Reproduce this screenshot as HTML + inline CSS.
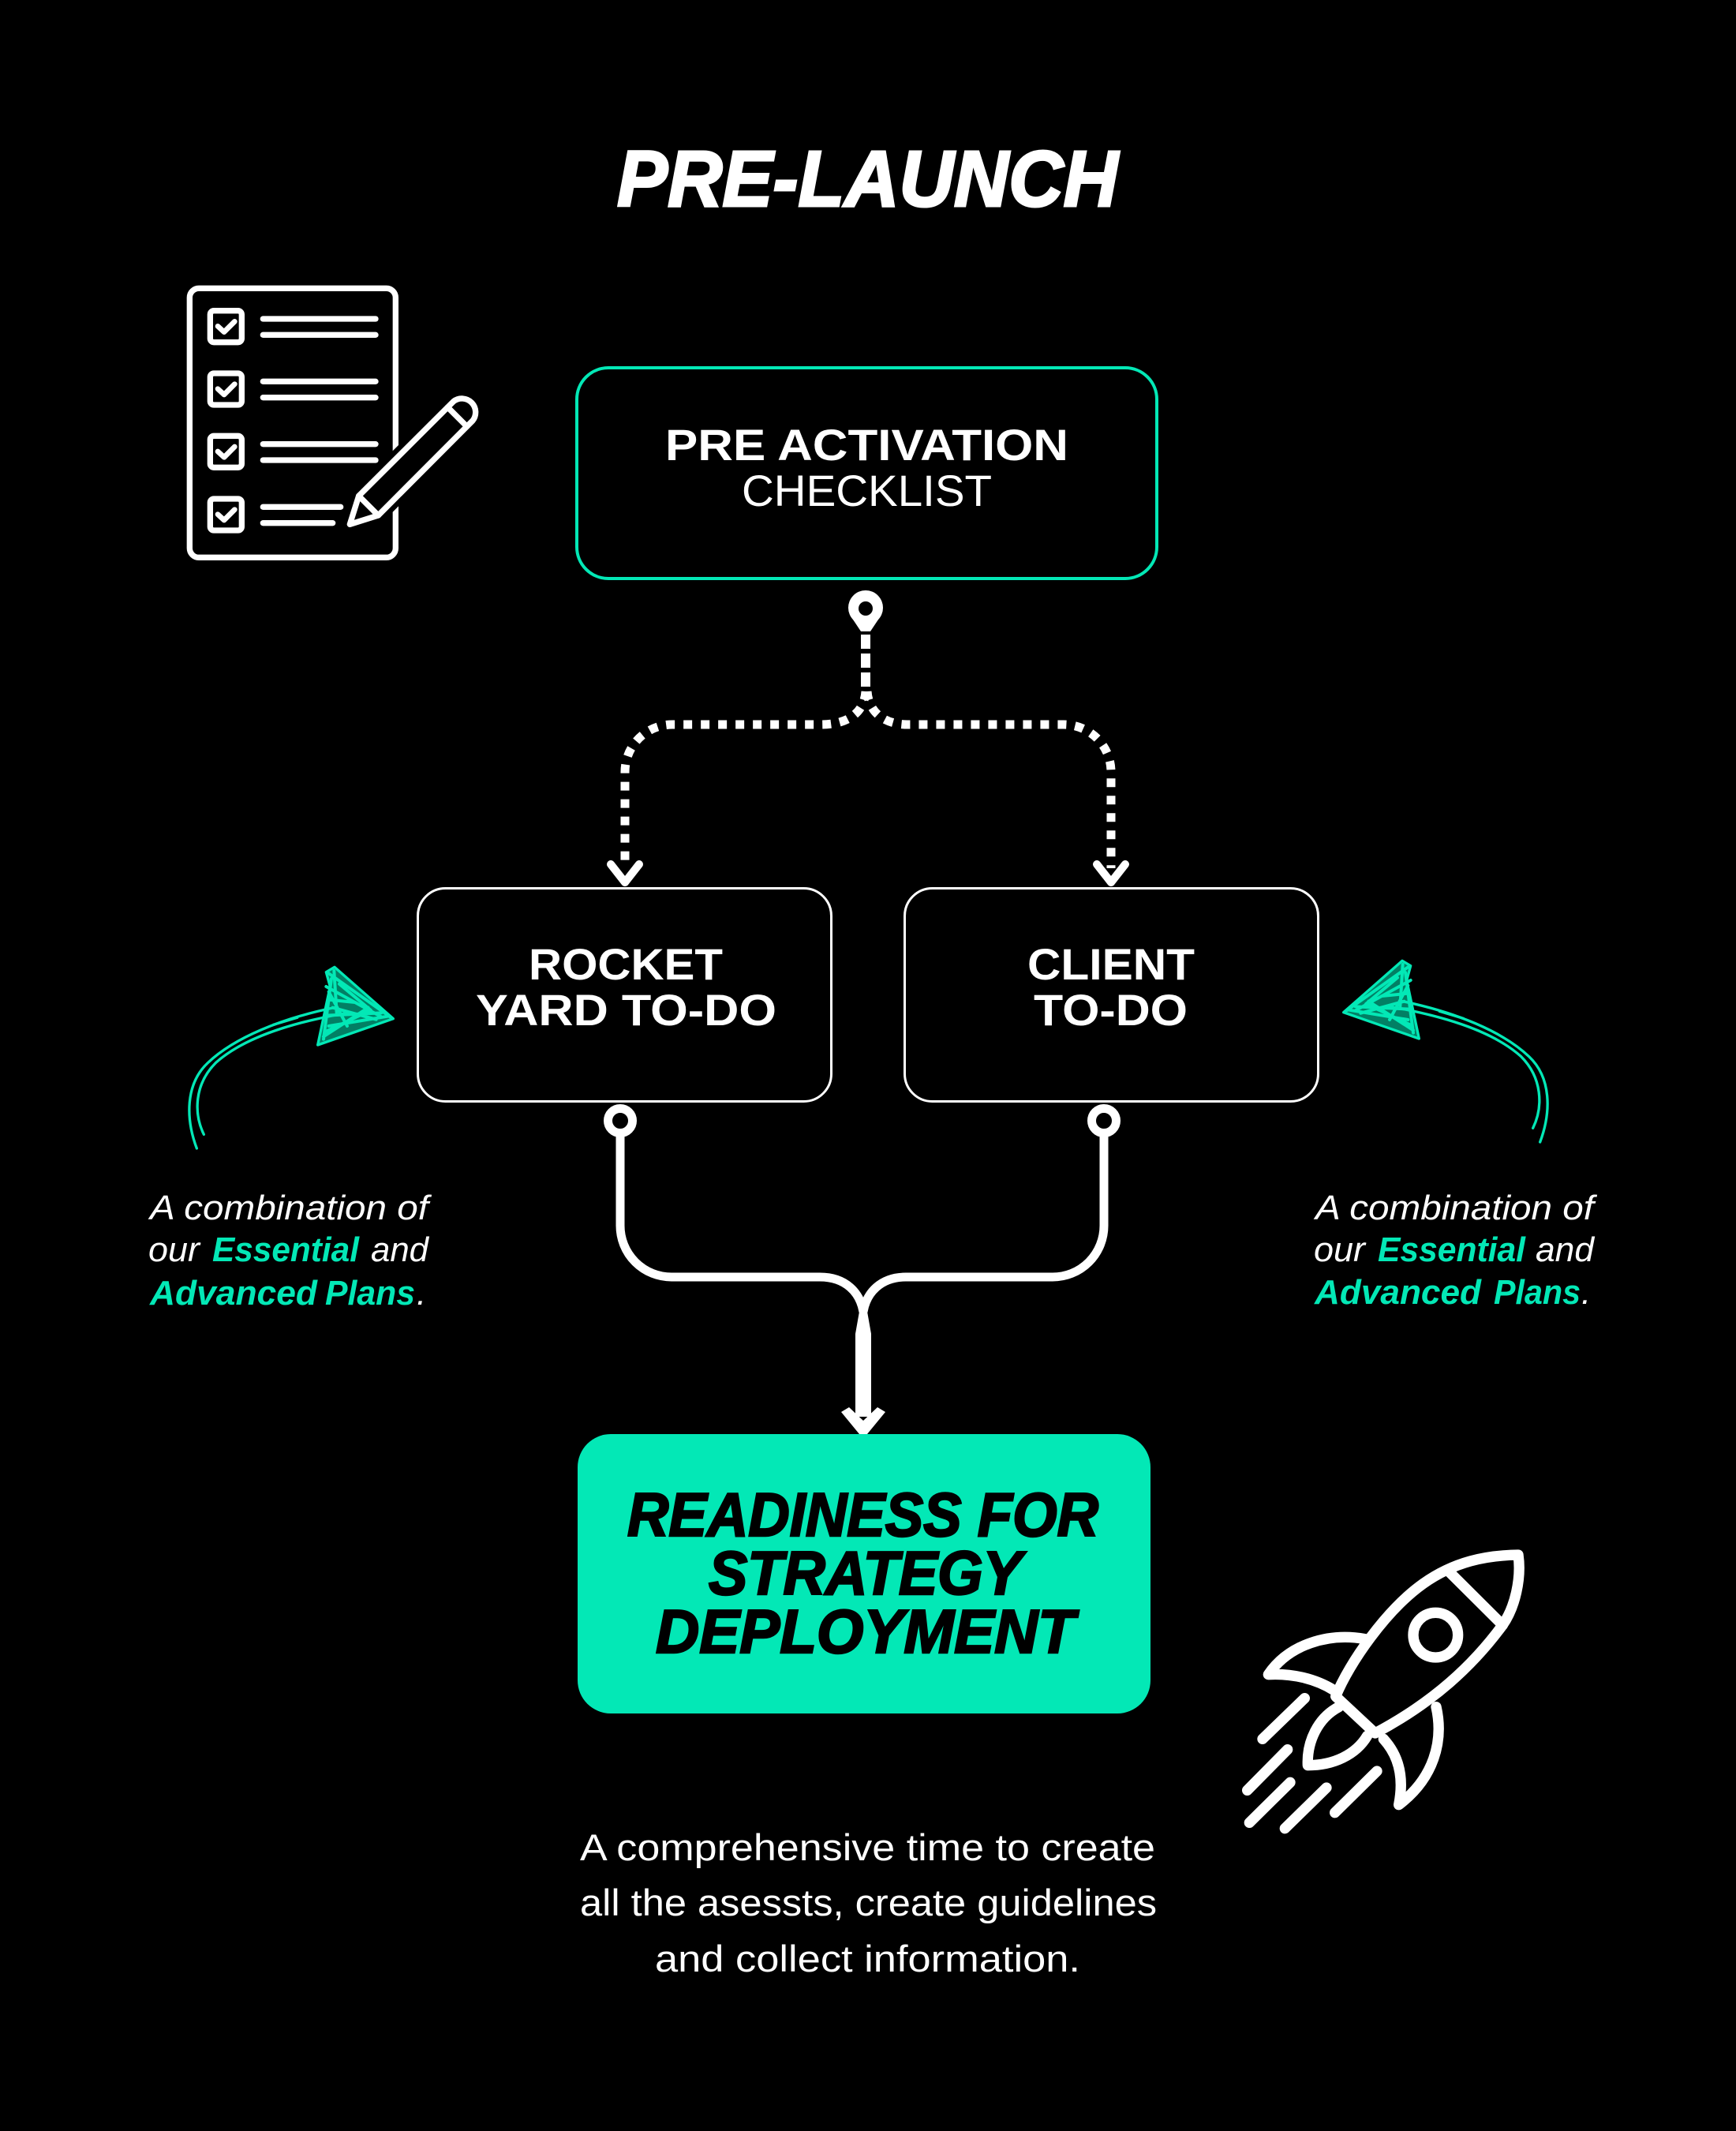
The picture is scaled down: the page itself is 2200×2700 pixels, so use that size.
<!DOCTYPE html>
<html>
<head>
<meta charset="utf-8">
<style>
  html, body { margin: 0; padding: 0; background: #000; }
  body { width: 2200px; height: 2700px; overflow: hidden; }
  svg { display: block; }
  text { font-family: "Liberation Sans", sans-serif; }
</style>
</head>
<body>
<svg width="2200" height="2700" viewBox="0 0 2200 2700" xmlns="http://www.w3.org/2000/svg">
  <rect width="2200" height="2700" fill="#000"/>

  <!-- Title -->
  <text x="782" y="261" font-size="100" font-weight="bold" font-style="italic" fill="#fff" stroke="#fff" stroke-width="3" textLength="635" lengthAdjust="spacingAndGlyphs">PRE-LAUNCH</text>

  <!-- Checklist icon -->
  <g transform="translate(200,330) scale(0.33333)" fill="none" stroke="#fff" stroke-width="22" stroke-linecap="round" stroke-linejoin="round">
    <rect x="121" y="106" width="783" height="1023" rx="35"/>
    <rect x="199" y="191" width="120" height="120" rx="14"/>
    <rect x="199" y="429" width="120" height="120" rx="14"/>
    <rect x="199" y="667" width="120" height="120" rx="14"/>
    <rect x="199" y="906" width="120" height="120" rx="14"/>
    <polyline points="228,250 252,272 292,232" stroke-width="20"/>
    <polyline points="228,488 252,510 292,470" stroke-width="20"/>
    <polyline points="228,726 252,748 292,708" stroke-width="20"/>
    <polyline points="228,965 252,987 292,947" stroke-width="20"/>
    <line x1="400" y1="222" x2="828" y2="222"/>
    <line x1="400" y1="283" x2="828" y2="283"/>
    <line x1="400" y1="460" x2="828" y2="460"/>
    <line x1="400" y1="521" x2="828" y2="521"/>
    <line x1="400" y1="698" x2="828" y2="698"/>
    <line x1="400" y1="759" x2="828" y2="759"/>
    <line x1="400" y1="937" x2="695" y2="937"/>
    <line x1="400" y1="998" x2="665" y2="998"/>
    <path d="M730,1003 L764,895 L1124,536 A52,52 0 0 1 1197,609 L838,969 Z" fill="#000" stroke="#000" stroke-width="60"/>
    <path d="M730,1003 L764,895 L1124,536 A52,52 0 0 1 1197,609 L838,969 Z" fill="#000"/>
    <line x1="764" y1="895" x2="838" y2="969"/>
    <line x1="1102" y1="558" x2="1175" y2="631"/>
  </g>

  <!-- Top box -->
  <rect x="731" y="466" width="735" height="267" rx="40" fill="none" stroke="#03e8b6" stroke-width="4"/>
  <text x="843" y="583" font-size="56" font-weight="bold" fill="#fff" textLength="511" lengthAdjust="spacingAndGlyphs">PRE ACTIVATION</text>
  <text x="940" y="641" font-size="56" fill="#fff" textLength="317" lengthAdjust="spacingAndGlyphs">CHECKLIST</text>

  <!-- Top node -->
  <circle cx="1097" cy="770" r="22" fill="#fff"/>
  <path d="M1081,785 L1113,785 L1103,800 L1091,800 Z" fill="#fff"/>
  <circle cx="1097" cy="771" r="9" fill="#000"/>
  <line x1="1097" y1="804" x2="1097" y2="872" stroke="#fff" stroke-width="12" stroke-dasharray="18 6"/>

  <!-- Dashed branches -->
  <path d="M1097,876 C1095,905 1072,918 1040,918 L852,918 A60,60 0 0 0 792,978 L792,1100" fill="none" stroke="#fff" stroke-width="11" stroke-dasharray="11 11"/>
  <path d="M1099,876 C1101,905 1124,918 1150,918 L1348,918 A60,60 0 0 1 1408,978 L1408,1100" fill="none" stroke="#fff" stroke-width="11" stroke-dasharray="11 11"/>
  <polyline points="774,1095 792,1118 810,1095" fill="none" stroke="#fff" stroke-width="10" stroke-linecap="round" stroke-linejoin="round"/>
  <polyline points="1390,1095 1408,1118 1426,1095" fill="none" stroke="#fff" stroke-width="10" stroke-linecap="round" stroke-linejoin="round"/>

  <!-- Middle boxes -->
  <rect x="529.5" y="1125.5" width="524" height="270" rx="35" fill="none" stroke="#fff" stroke-width="3"/>
  <rect x="1146.5" y="1125.5" width="524" height="270" rx="35" fill="none" stroke="#fff" stroke-width="3"/>
  <text x="670" y="1241" font-size="56" font-weight="bold" fill="#fff" textLength="246" lengthAdjust="spacingAndGlyphs">ROCKET</text>
  <text x="603" y="1299" font-size="56" font-weight="bold" fill="#fff" textLength="381" lengthAdjust="spacingAndGlyphs">YARD TO-DO</text>
  <text x="1302" y="1241" font-size="56" font-weight="bold" fill="#fff" textLength="212" lengthAdjust="spacingAndGlyphs">CLIENT</text>
  <text x="1310" y="1299" font-size="56" font-weight="bold" fill="#fff" textLength="195" lengthAdjust="spacingAndGlyphs">TO-DO</text>

  <!-- Bottom connectors -->
  <circle cx="786" cy="1420" r="15.5" fill="none" stroke="#fff" stroke-width="11"/>
  <circle cx="1399" cy="1420" r="15.5" fill="none" stroke="#fff" stroke-width="11"/>
  <path d="M786,1434 L786,1553 A65,65 0 0 0 851,1618 L1039,1618 C1072,1618 1090,1638 1094,1662" fill="none" stroke="#fff" stroke-width="11"/>
  <path d="M1399,1434 L1399,1553 A65,65 0 0 1 1334,1618 L1148,1618 C1116,1618 1098,1638 1094,1662" fill="none" stroke="#fff" stroke-width="11"/>
  <path d="M1090,1656 L1098,1656 L1104,1690 L1104,1795 L1084,1795 L1084,1690 Z" fill="#fff"/>
  <polygon points="1066,1789 1076,1783 1094,1800 1112,1783 1122,1789 1099,1817 1089,1817" fill="#fff"/>

  <!-- Green box -->
  <rect x="732" y="1817" width="726" height="354" rx="42" fill="#03e8b6"/>
  <text x="795" y="1946" font-size="78" font-weight="bold" font-style="italic" fill="#000" stroke="#000" stroke-width="2.5" textLength="597" lengthAdjust="spacingAndGlyphs">READINESS FOR</text>
  <text x="898" y="2020" font-size="78" font-weight="bold" font-style="italic" fill="#000" stroke="#000" stroke-width="2.5" textLength="397" lengthAdjust="spacingAndGlyphs">STRATEGY</text>
  <text x="831" y="2094" font-size="78" font-weight="bold" font-style="italic" fill="#000" stroke="#000" stroke-width="2.5" textLength="531" lengthAdjust="spacingAndGlyphs">DEPLOYMENT</text>

  <!-- Left green sketch arrow -->
  <g transform="translate(150,1200) scale(0.33333)" fill="none" stroke="#03e8b6" stroke-width="10" stroke-linecap="round" stroke-linejoin="round">
    <path d="M298,765 C255,650 255,520 340,440 C440,345 620,270 830,228"/>
    <path d="M325,712 C285,630 290,520 370,440 C470,350 640,290 870,250"/>
    <path d="M590,295 L680,268"/>
    <path d="M1045,272 L822,76 L790,95 L805,150 L758,372 Z" fill="#03e8b6" fill-opacity="0.55"/>
    <path d="M800,100 L1040,270 M790,150 L1000,265 M800,300 L1030,262 M780,340 L950,230 M820,90 L830,250 M800,200 L900,210 M790,260 L1000,250 M810,120 L780,350 M840,140 L960,240 L790,320 M815,230 L980,275 M800,170 L870,300" stroke-width="12"/>
  </g>

  <!-- Right green sketch arrow (mirrored) -->
  <g transform="translate(2201,-8) scale(-1,1) translate(150,1200) scale(0.33333)" fill="none" stroke="#03e8b6" stroke-width="10" stroke-linecap="round" stroke-linejoin="round">
    <path d="M298,765 C255,650 255,520 340,440 C440,345 620,270 830,228"/>
    <path d="M325,712 C285,630 290,520 370,440 C470,350 640,290 870,250"/>
    <path d="M590,295 L680,268"/>
    <path d="M1045,272 L822,76 L790,95 L805,150 L758,372 Z" fill="#03e8b6" fill-opacity="0.55"/>
    <path d="M800,100 L1040,270 M790,150 L1000,265 M800,300 L1030,262 M780,340 L950,230 M820,90 L830,250 M800,200 L900,210 M790,260 L1000,250 M810,120 L780,350 M840,140 L960,240 L790,320 M815,230 L980,275 M800,170 L870,300" stroke-width="12"/>
  </g>

  <!-- Left caption -->
  <text x="190" y="1545" font-size="44" font-style="italic" fill="#fff" textLength="353" lengthAdjust="spacingAndGlyphs">A combination of</text>
  <text x="188" y="1598" font-size="44" font-style="italic" fill="#fff" textLength="65" lengthAdjust="spacingAndGlyphs">our</text>
  <text x="269" y="1598" font-size="44" font-style="italic" font-weight="bold" fill="#03e8b6" textLength="186" lengthAdjust="spacingAndGlyphs">Essential</text>
  <text x="470" y="1598" font-size="44" font-style="italic" fill="#fff" textLength="73" lengthAdjust="spacingAndGlyphs">and</text>
  <text x="190" y="1653" font-size="44" font-style="italic" font-weight="bold" fill="#03e8b6" textLength="212" lengthAdjust="spacingAndGlyphs">Advanced</text>
  <text x="412" y="1653" font-size="44" font-style="italic" font-weight="bold" fill="#03e8b6" textLength="114" lengthAdjust="spacingAndGlyphs">Plans</text>
  <text x="528" y="1653" font-size="44" font-style="italic" fill="#fff">.</text>

  <!-- Right caption -->
  <text x="1667" y="1545" font-size="44" font-style="italic" fill="#fff" textLength="353" lengthAdjust="spacingAndGlyphs">A combination of</text>
  <text x="1665" y="1598" font-size="44" font-style="italic" fill="#fff" textLength="65" lengthAdjust="spacingAndGlyphs">our</text>
  <text x="1746" y="1598" font-size="44" font-style="italic" font-weight="bold" fill="#03e8b6" textLength="187" lengthAdjust="spacingAndGlyphs">Essential</text>
  <text x="1946" y="1598" font-size="44" font-style="italic" fill="#fff" textLength="74" lengthAdjust="spacingAndGlyphs">and</text>
  <text x="1666" y="1652" font-size="44" font-style="italic" font-weight="bold" fill="#03e8b6" textLength="211" lengthAdjust="spacingAndGlyphs">Advanced</text>
  <text x="1893" y="1652" font-size="44" font-style="italic" font-weight="bold" fill="#03e8b6" textLength="110" lengthAdjust="spacingAndGlyphs">Plans</text>
  <text x="2004" y="1652" font-size="44" font-style="italic" fill="#fff">.</text>

  <!-- Rocket -->
  <g transform="translate(1550,1940) scale(0.33333)" fill="none" stroke="#fff" stroke-width="40" stroke-linecap="round" stroke-linejoin="round">
    <path d="M428,628 C480,500 620,300 760,200 C880,115 1000,92 1122,90 C1135,180 1110,290 1062,358 C950,510 800,650 578,768 Z"/>
    <circle cx="808" cy="395" r="85"/>
    <line x1="855" y1="150" x2="1063" y2="357"/>
    <path d="M540,410 C400,385 250,430 172,545 C260,540 350,560 422,605"/>
    <path d="M810,668 C840,800 800,940 668,1040 C690,930 665,850 610,790"/>
    <path d="M440,668 C360,710 318,800 322,890 C420,890 505,850 548,778"/>
    <line x1="150" y1="790" x2="310" y2="635"/>
    <line x1="92" y1="985" x2="245" y2="830"/>
    <line x1="100" y1="1108" x2="255" y2="955"/>
    <line x1="235" y1="1130" x2="393" y2="975"/>
    <line x1="425" y1="1070" x2="585" y2="912"/>
  </g>

  <!-- Bottom description -->
  <text x="735" y="2357" font-size="47" fill="#fff" textLength="729" lengthAdjust="spacingAndGlyphs">A comprehensive time to create</text>
  <text x="735" y="2427" font-size="47" fill="#fff" textLength="731" lengthAdjust="spacingAndGlyphs">all the asessts, create guidelines</text>
  <text x="830" y="2498" font-size="47" fill="#fff" textLength="539" lengthAdjust="spacingAndGlyphs">and collect information.</text>
</svg>
</body>
</html>
